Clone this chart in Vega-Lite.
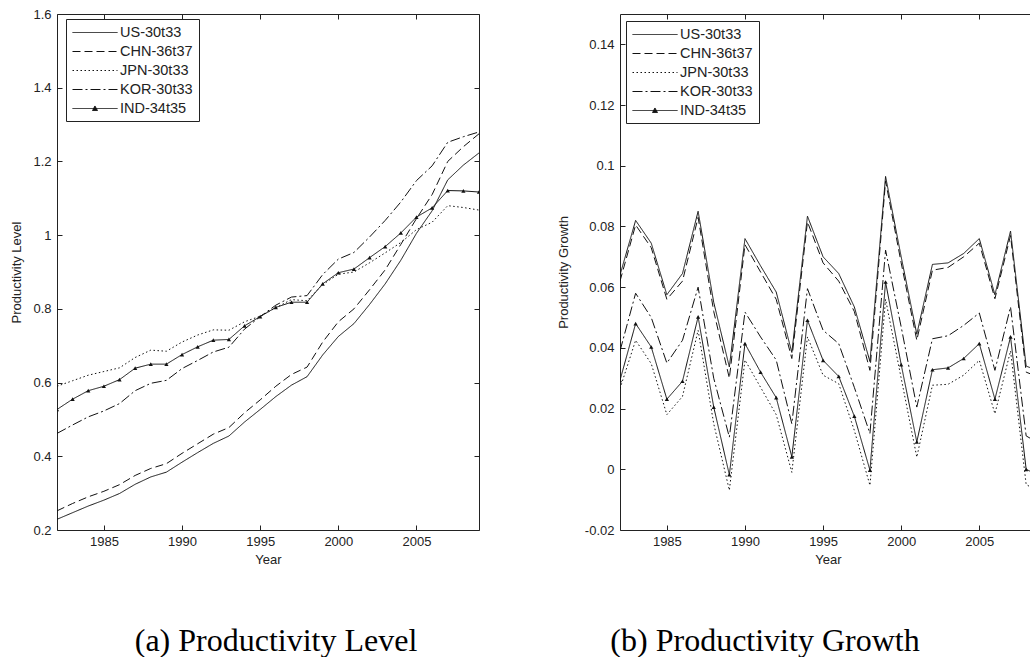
{
  "$schema": "https://vega.github.io/schema/vega-lite/v6.json",
  "background": "white",
  "padding": {"left": 10, "top": 8, "right": 0, "bottom": 0},
  "spacing": 77,
  "resolve": {
    "scale": {"strokeDash": "independent", "shape": "independent"},
    "legend": {"strokeDash": "independent", "shape": "independent"}
  },
  "config": {
    "view": {"stroke": null},
    "font": "Liberation Sans",
    "axis": {
      "grid": false,
      "domainColor": "#222",
      "domainWidth": 1,
      "tickColor": "#222",
      "tickWidth": 1,
      "tickSize": -5,
      "labelFont": "Liberation Sans",
      "labelFontSize": 13,
      "labelColor": "#222",
      "titleFont": "Liberation Sans",
      "titleFontSize": 13,
      "titleFontWeight": "normal",
      "titleColor": "#222"
    },
    "axisBottom": {"labelPadding": 10, "titlePadding": 5, "labelFlush": false},
    "axisLeft": {"labelPadding": 11, "titlePadding": 9},
    "legend": {
      "orient": "none",
      "title": null,
      "strokeColor": "#222",
      "fillColor": "white",
      "padding": 6,
      "symbolSize": 196,
      "symbolStrokeWidth": 1,
      "symbolStrokeColor": "#222",
      "symbolFillColor": "#222",
      "labelFont": "Liberation Sans",
      "labelFontSize": 14.5,
      "labelColor": "#222",
      "labelOffset": 33,
      "rowPadding": 4,
      "labelLimit": 0,
      "cornerRadius": 0
    }
  },
  "datasets": {
    "level": [
      {"year": 1982, "US-30t33": 0.229, "CHN-36t37": 0.252, "JPN-30t33": 0.590, "KOR-30t33": 0.462, "IND-34t35": 0.527},
      {"year": 1983, "US-30t33": 0.247, "CHN-36t37": 0.272, "JPN-30t33": 0.605, "KOR-30t33": 0.485, "IND-34t35": 0.555},
      {"year": 1984, "US-30t33": 0.265, "CHN-36t37": 0.290, "JPN-30t33": 0.620, "KOR-30t33": 0.507, "IND-34t35": 0.578},
      {"year": 1985, "US-30t33": 0.281, "CHN-36t37": 0.305, "JPN-30t33": 0.630, "KOR-30t33": 0.523, "IND-34t35": 0.590},
      {"year": 1986, "US-30t33": 0.299, "CHN-36t37": 0.323, "JPN-30t33": 0.640, "KOR-30t33": 0.543, "IND-34t35": 0.608},
      {"year": 1987, "US-30t33": 0.324, "CHN-36t37": 0.348, "JPN-30t33": 0.668, "KOR-30t33": 0.578, "IND-34t35": 0.639},
      {"year": 1988, "US-30t33": 0.344, "CHN-36t37": 0.367, "JPN-30t33": 0.688, "KOR-30t33": 0.598, "IND-34t35": 0.650},
      {"year": 1989, "US-30t33": 0.357, "CHN-36t37": 0.380, "JPN-30t33": 0.685, "KOR-30t33": 0.606, "IND-34t35": 0.650},
      {"year": 1990, "US-30t33": 0.384, "CHN-36t37": 0.408, "JPN-30t33": 0.710, "KOR-30t33": 0.638, "IND-34t35": 0.676},
      {"year": 1991, "US-30t33": 0.410, "CHN-36t37": 0.434, "JPN-30t33": 0.729, "KOR-30t33": 0.660, "IND-34t35": 0.697},
      {"year": 1992, "US-30t33": 0.435, "CHN-36t37": 0.460, "JPN-30t33": 0.743, "KOR-30t33": 0.683, "IND-34t35": 0.715},
      {"year": 1993, "US-30t33": 0.455, "CHN-36t37": 0.478, "JPN-30t33": 0.742, "KOR-30t33": 0.696, "IND-34t35": 0.717},
      {"year": 1994, "US-30t33": 0.493, "CHN-36t37": 0.518, "JPN-30t33": 0.765, "KOR-30t33": 0.745, "IND-34t35": 0.754},
      {"year": 1995, "US-30t33": 0.527, "CHN-36t37": 0.553, "JPN-30t33": 0.780, "KOR-30t33": 0.779, "IND-34t35": 0.779},
      {"year": 1996, "US-30t33": 0.562, "CHN-36t37": 0.590, "JPN-30t33": 0.803, "KOR-30t33": 0.810, "IND-34t35": 0.804},
      {"year": 1997, "US-30t33": 0.593, "CHN-36t37": 0.622, "JPN-30t33": 0.825, "KOR-30t33": 0.832, "IND-34t35": 0.818},
      {"year": 1998, "US-30t33": 0.616, "CHN-36t37": 0.642, "JPN-30t33": 0.822, "KOR-30t33": 0.836, "IND-34t35": 0.818},
      {"year": 1999, "US-30t33": 0.675, "CHN-36t37": 0.710, "JPN-30t33": 0.866, "KOR-30t33": 0.893, "IND-34t35": 0.868},
      {"year": 2000, "US-30t33": 0.725, "CHN-36t37": 0.765, "JPN-30t33": 0.894, "KOR-30t33": 0.935, "IND-34t35": 0.898},
      {"year": 2001, "US-30t33": 0.760, "CHN-36t37": 0.800, "JPN-30t33": 0.900, "KOR-30t33": 0.953, "IND-34t35": 0.908},
      {"year": 2002, "US-30t33": 0.812, "CHN-36t37": 0.852, "JPN-30t33": 0.925, "KOR-30t33": 0.995, "IND-34t35": 0.939},
      {"year": 2003, "US-30t33": 0.868, "CHN-36t37": 0.906, "JPN-30t33": 0.952, "KOR-30t33": 1.040, "IND-34t35": 0.969},
      {"year": 2004, "US-30t33": 0.932, "CHN-36t37": 0.975, "JPN-30t33": 0.980, "KOR-30t33": 1.090, "IND-34t35": 1.006},
      {"year": 2005, "US-30t33": 1.005, "CHN-36t37": 1.045, "JPN-30t33": 1.015, "KOR-30t33": 1.148, "IND-34t35": 1.049},
      {"year": 2006, "US-30t33": 1.066, "CHN-36t37": 1.110, "JPN-30t33": 1.035, "KOR-30t33": 1.188, "IND-34t35": 1.074},
      {"year": 2007, "US-30t33": 1.150, "CHN-36t37": 1.200, "JPN-30t33": 1.080, "KOR-30t33": 1.252, "IND-34t35": 1.121},
      {"year": 2008, "US-30t33": 1.190, "CHN-36t37": 1.240, "JPN-30t33": 1.075, "KOR-30t33": 1.267, "IND-34t35": 1.120},
      {"year": 2009, "US-30t33": 1.223, "CHN-36t37": 1.275, "JPN-30t33": 1.068, "KOR-30t33": 1.280, "IND-34t35": 1.117}
    ],
    "growth": [
      {"year": 1982, "US-30t33": 0.064, "CHN-36t37": 0.062, "JPN-30t33": 0.0266, "KOR-30t33": 0.039, "IND-34t35": 0.0293},
      {"year": 1983, "US-30t33": 0.082, "CHN-36t37": 0.0805, "JPN-30t33": 0.0425, "KOR-30t33": 0.058, "IND-34t35": 0.048},
      {"year": 1984, "US-30t33": 0.0745, "CHN-36t37": 0.073, "JPN-30t33": 0.0348, "KOR-30t33": 0.050, "IND-34t35": 0.0403},
      {"year": 1985, "US-30t33": 0.0575, "CHN-36t37": 0.056, "JPN-30t33": 0.018, "KOR-30t33": 0.035, "IND-34t35": 0.0231},
      {"year": 1986, "US-30t33": 0.0645, "CHN-36t37": 0.062, "JPN-30t33": 0.024, "KOR-30t33": 0.0425, "IND-34t35": 0.029},
      {"year": 1987, "US-30t33": 0.085, "CHN-36t37": 0.083, "JPN-30t33": 0.0458, "KOR-30t33": 0.060, "IND-34t35": 0.0502},
      {"year": 1988, "US-30t33": 0.055, "CHN-36t37": 0.052, "JPN-30t33": 0.015, "KOR-30t33": 0.030, "IND-34t35": 0.0205},
      {"year": 1989, "US-30t33": 0.0337, "CHN-36t37": 0.030, "JPN-30t33": -0.0069, "KOR-30t33": 0.0106, "IND-34t35": -0.0018},
      {"year": 1990, "US-30t33": 0.076, "CHN-36t37": 0.074, "JPN-30t33": 0.036, "KOR-30t33": 0.0518, "IND-34t35": 0.0414},
      {"year": 1991, "US-30t33": 0.067, "CHN-36t37": 0.065, "JPN-30t33": 0.027, "KOR-30t33": 0.0436, "IND-34t35": 0.032},
      {"year": 1992, "US-30t33": 0.0584, "CHN-36t37": 0.056, "JPN-30t33": 0.018, "KOR-30t33": 0.036, "IND-34t35": 0.0236},
      {"year": 1993, "US-30t33": 0.0385, "CHN-36t37": 0.0365, "JPN-30t33": -0.001, "KOR-30t33": 0.015, "IND-34t35": 0.0041},
      {"year": 1994, "US-30t33": 0.0834, "CHN-36t37": 0.0815, "JPN-30t33": 0.0436, "KOR-30t33": 0.0595, "IND-34t35": 0.0491},
      {"year": 1995, "US-30t33": 0.070, "CHN-36t37": 0.068, "JPN-30t33": 0.031, "KOR-30t33": 0.0458, "IND-34t35": 0.0359},
      {"year": 1996, "US-30t33": 0.0645, "CHN-36t37": 0.062, "JPN-30t33": 0.0282, "KOR-30t33": 0.0414, "IND-34t35": 0.0306},
      {"year": 1997, "US-30t33": 0.0535, "CHN-36t37": 0.052, "JPN-30t33": 0.0128, "KOR-30t33": 0.027, "IND-34t35": 0.0175},
      {"year": 1998, "US-30t33": 0.0355, "CHN-36t37": 0.0326, "JPN-30t33": -0.0053, "KOR-30t33": 0.0118, "IND-34t35": -0.0003},
      {"year": 1999, "US-30t33": 0.0965, "CHN-36t37": 0.095, "JPN-30t33": 0.056, "KOR-30t33": 0.0722, "IND-34t35": 0.0617},
      {"year": 2000, "US-30t33": 0.070, "CHN-36t37": 0.068, "JPN-30t33": 0.030, "KOR-30t33": 0.0469, "IND-34t35": 0.0345},
      {"year": 2001, "US-30t33": 0.0445, "CHN-36t37": 0.0425, "JPN-30t33": 0.004, "KOR-30t33": 0.0205, "IND-34t35": 0.009},
      {"year": 2002, "US-30t33": 0.0675, "CHN-36t37": 0.0656, "JPN-30t33": 0.0277, "KOR-30t33": 0.043, "IND-34t35": 0.0328},
      {"year": 2003, "US-30t33": 0.068, "CHN-36t37": 0.0665, "JPN-30t33": 0.028, "KOR-30t33": 0.044, "IND-34t35": 0.0334},
      {"year": 2004, "US-30t33": 0.0711, "CHN-36t37": 0.070, "JPN-30t33": 0.031, "KOR-30t33": 0.0474, "IND-34t35": 0.0365},
      {"year": 2005, "US-30t33": 0.076, "CHN-36t37": 0.0745, "JPN-30t33": 0.0359, "KOR-30t33": 0.0515, "IND-34t35": 0.0414},
      {"year": 2006, "US-30t33": 0.0575, "CHN-36t37": 0.0562, "JPN-30t33": 0.0183, "KOR-30t33": 0.0326, "IND-34t35": 0.0231},
      {"year": 2007, "US-30t33": 0.0785, "CHN-36t37": 0.077, "JPN-30t33": 0.039, "KOR-30t33": 0.0535, "IND-34t35": 0.0436},
      {"year": 2008, "US-30t33": 0.034, "CHN-36t37": 0.032, "JPN-30t33": -0.005, "KOR-30t33": 0.011, "IND-34t35": 0.0},
      {"year": 2009, "US-30t33": 0.032, "CHN-36t37": 0.030, "JPN-30t33": -0.008, "KOR-30t33": 0.008, "IND-34t35": -0.0025}
    ]
  },
  "hconcat": [
    {
      "width": 422,
      "height": 516,
      "title": {"text": "(a) Productivity Level", "orient": "bottom", "frame": "group", "anchor": "middle", "font": "Liberation Serif", "fontSize": 32, "fontWeight": "normal", "color": "black", "offset": 60, "dx": 8},
      "data": {"name": "level"},
      "transform": [{"fold": ["US-30t33", "CHN-36t37", "JPN-30t33", "KOR-30t33", "IND-34t35"], "as": ["series", "v"]}],
      "layer": [
        {
          "mark": {"type": "line", "strokeWidth": 1, "color": "#111", "clip": true},
          "encoding": {
            "x": {"field": "year", "type": "quantitative", "scale": {"domain": [1982, 2009], "nice": false, "zero": false},
                  "axis": {"orient": "bottom", "values": [1985, 1990, 1995, 2000, 2005], "format": "d", "title": "Year"}},
            "y": {"field": "v", "type": "quantitative", "scale": {"domain": [0.2, 1.6], "nice": false, "zero": false},
                  "axis": {"orient": "left", "values": [0.2, 0.4, 0.6, 0.8, 1.0, 1.2, 1.4, 1.6], "labelExpr": "format(datum.value, '~g')", "title": "Productivity Level"}},
            "strokeDash": {"field": "series", "type": "nominal",
                  "scale": {"domain": ["US-30t33", "CHN-36t37", "JPN-30t33", "KOR-30t33", "IND-34t35"], "range": [[1, 0], [8, 4], [1.5, 2.5], [10, 3, 2, 3], [1, 0]]},
                  "legend": {"orient": "none", "legendX": 9, "legendY": 5, "title": null,
                             "encoding": {"symbols": {"stroke": {"value": "#111"}, "fill": {"value": "#111"}, "strokeWidth": {"value": 1}, "opacity": {"value": 1}}}}}
          }
        },
        {
          "transform": [{"filter": "datum.series === 'IND-34t35'"}],
          "mark": {"type": "point", "shape": "triangle-up", "filled": true, "size": 18, "color": "#111", "opacity": 1, "clip": true},
          "encoding": {
            "x": {"field": "year", "type": "quantitative", "axis": null},
            "y": {"field": "v", "type": "quantitative", "axis": null}
          }
        },
        {
          "transform": [{"filter": "datum.v > 100"}],
          "mark": {"type": "point", "filled": true, "fill": "#111", "stroke": "#111", "strokeWidth": 1, "opacity": 1},
          "encoding": {
            "x": {"field": "year", "type": "quantitative", "axis": {"orient": "top", "values": [1985, 1990, 1995, 2000, 2005], "labels": false, "title": null}},
            "y": {"field": "v", "type": "quantitative", "axis": {"orient": "right", "values": [0.2, 0.4, 0.6, 0.8, 1.0, 1.2, 1.4, 1.6], "labels": false, "title": null}},
            "shape": {"field": "series", "type": "nominal",
                  "scale": {"domain": ["US-30t33", "CHN-36t37", "JPN-30t33", "KOR-30t33", "IND-34t35"], "range": ["M-1,0H5.43", "M-1,0H5.43", "M-1,0H5.43", "M-1,0H5.43", "M-1,0H5.43M1.86,0.29L2.21,-0.36L2.57,0.29Z"]},
                  "legend": {"orient": "none", "legendX": 9, "legendY": 5, "title": null,
                             "encoding": {"symbols": {"stroke": {"value": "#111"}, "fill": {"value": "#111"}, "strokeWidth": {"value": 1}, "opacity": {"value": 1}}}}}
          }
        }
      ]
    },
    {
      "width": 416,
      "height": 516,
      "title": {"text": "(b) Productivity Growth", "orient": "bottom", "frame": "group", "anchor": "middle", "font": "Liberation Serif", "fontSize": 32, "fontWeight": "normal", "color": "black", "offset": 60, "dx": -63},
      "data": {"name": "growth"},
      "transform": [{"fold": ["US-30t33", "CHN-36t37", "JPN-30t33", "KOR-30t33", "IND-34t35"], "as": ["series", "v"]}],
      "layer": [
        {
          "mark": {"type": "line", "strokeWidth": 1, "color": "#111", "clip": true},
          "encoding": {
            "x": {"field": "year", "type": "quantitative", "scale": {"domain": [1982, 2008.63], "nice": false, "zero": false},
                  "axis": {"orient": "bottom", "values": [1985, 1990, 1995, 2000, 2005], "format": "d", "title": "Year"}},
            "y": {"field": "v", "type": "quantitative", "scale": {"domain": [-0.02, 0.15], "nice": false, "zero": false},
                  "axis": {"orient": "left", "values": [-0.02, 0, 0.02, 0.04, 0.06, 0.08, 0.1, 0.12, 0.14], "labelExpr": "replace(format(datum.value, '~g'), '\u2212', '-')", "title": "Productivity Growth", "titlePadding": 14}},
            "strokeDash": {"field": "series", "type": "nominal",
                  "scale": {"domain": ["US-30t33", "CHN-36t37", "JPN-30t33", "KOR-30t33", "IND-34t35"], "range": [[1, 0], [8, 4], [1.5, 2.5], [10, 3, 2, 3], [1, 0]]},
                  "legend": {"orient": "none", "legendX": 6, "legendY": 7, "title": null,
                             "encoding": {"symbols": {"stroke": {"value": "#111"}, "fill": {"value": "#111"}, "strokeWidth": {"value": 1}, "opacity": {"value": 1}}}}}
          }
        },
        {
          "transform": [{"filter": "datum.series === 'IND-34t35'"}],
          "mark": {"type": "point", "shape": "triangle-up", "filled": true, "size": 18, "color": "#111", "opacity": 1, "clip": true},
          "encoding": {
            "x": {"field": "year", "type": "quantitative", "axis": null},
            "y": {"field": "v", "type": "quantitative", "axis": null}
          }
        },
        {
          "transform": [{"filter": "datum.v > 100"}],
          "mark": {"type": "point", "filled": true, "fill": "#111", "stroke": "#111", "strokeWidth": 1, "opacity": 1},
          "encoding": {
            "x": {"field": "year", "type": "quantitative", "axis": {"orient": "top", "values": [1985, 1990, 1995, 2000, 2005], "labels": false, "title": null}},
            "y": {"field": "v", "type": "quantitative", "axis": {"orient": "right", "labels": false, "ticks": false, "domain": false, "title": null}},
            "shape": {"field": "series", "type": "nominal",
                  "scale": {"domain": ["US-30t33", "CHN-36t37", "JPN-30t33", "KOR-30t33", "IND-34t35"], "range": ["M-1,0H5.43", "M-1,0H5.43", "M-1,0H5.43", "M-1,0H5.43", "M-1,0H5.43M1.86,0.29L2.21,-0.36L2.57,0.29Z"]},
                  "legend": {"orient": "none", "legendX": 6, "legendY": 7, "title": null,
                             "encoding": {"symbols": {"stroke": {"value": "#111"}, "fill": {"value": "#111"}, "strokeWidth": {"value": 1}, "opacity": {"value": 1}}}}}
          }
        }
      ]
    }
  ]
}
